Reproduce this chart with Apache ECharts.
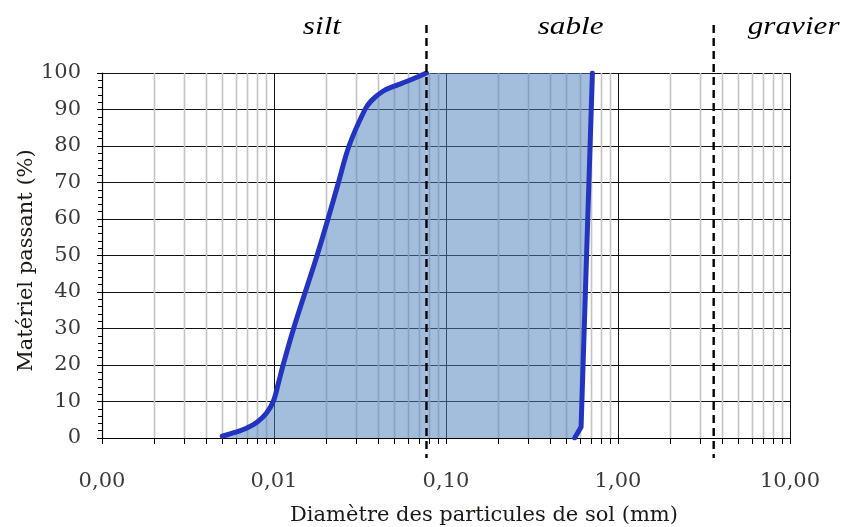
<!DOCTYPE html>
<html>
<head>
<meta charset="utf-8">
<script src="https://cdn.jsdelivr.net/npm/echarts@6/dist/echarts.min.js"></script>
<style>
  html, body { margin: 0; padding: 0; background: #ffffff; }
  #chart { width: 847px; height: 527px; }
</style>
</head>
<body>
<div id="chart"></div>
<script>
// Courbe granulométrique : diamètre (mm) / pourcentage passant
const diamFine = [0.005, 0.006, 0.007, 0.008, 0.009, 0.0099, 0.0106, 0.0113, 0.0130, 0.0152,
                  0.0178, 0.0206, 0.0237, 0.0273, 0.0338, 0.0370, 0.0430, 0.0500, 0.0600, 0.0770];
const passFine = [0.5, 1.6, 2.8, 4.4, 6.7, 10, 15, 20, 30, 40,
                  50, 60, 70, 80, 90, 92.5, 95, 96.4, 97.8, 100];
const diamCoarse = [0.56, 0.61, 0.71];
const passCoarse = [0, 3, 100];

// Limites des classes granulométriques (mm) et libellés
const zoneLimits = [0.077, 3.6];
const zoneNames = ['silt', 'sable', 'gravier'];
const zoneLabelAt = [0.019, 0.53, 10.5];

// Graduations secondaires de l'axe logarithmique
const decades = [0.001, 0.01, 0.1, 1];
const mantissas = [2, 3, 4, 5, 6, 7, 8, 9];
const minorGrid = [];
decades.forEach(d => mantissas.forEach(m => minorGrid.push(+(m * d).toPrecision(3))));

const fineLine = diamFine.map((d, i) => [d, passFine[i]]);
const coarseLine = diamCoarse.map((d, i) => [d, passCoarse[i]]);
// partie remplie entre la fin de la branche fine et la branche grossière
const coarseFill = [fineLine[fineLine.length - 1]].concat(coarseLine.slice().reverse());

const fillColor = '#4f81bd';
const fillOpacity = 0.52;
const curveColor = '#2234c0';

const chart = echarts.init(document.getElementById('chart'), null, { renderer: 'canvas' });

chart.setOption({
  animation: false,
  backgroundColor: '#ffffff',
  grid: { left: 102, right: 57, top: 73, bottom: 89, outerBoundsMode: 'none', containLabel: false },
  xAxis: {
    type: 'log',
    logBase: 10,
    min: 0.001,
    max: 10,
    name: 'Diamètre des particules de sol (mm)',
    nameLocation: 'middle',
    nameGap: 67,
    nameMoveOverlap: false,
    nameTextStyle: { fontFamily: 'DejaVu Serif', fontSize: 21, color: '#1c1814', padding: [0, 0, 0, 76] },
    axisLine: { show: true, lineStyle: { color: '#000', width: 1.2 } },
    axisTick: { show: true, length: 6, lineStyle: { color: '#000' } },
    axisLabel: {
      margin: 33,
      fontFamily: 'DejaVu Serif',
      fontSize: 21,
      color: '#3c3a38',
      formatter: v => v.toFixed(2).replace('.', ',')
    },
    splitLine: { show: true, lineStyle: { color: '#111', width: 1 } }
  },
  yAxis: {
    type: 'value',
    min: 0,
    max: 100,
    interval: 10,
    name: 'Matériel passant (%)',
    nameLocation: 'middle',
    nameRotate: 90,
    nameGap: 65,
    nameMoveOverlap: false,
    nameTextStyle: { fontFamily: 'DejaVu Serif', fontSize: 21, color: '#1c1814', padding: [0, 10, 0, 0] },
    axisLine: { show: true, lineStyle: { color: '#000', width: 1.2 } },
    axisTick: { show: true, length: 5, lineStyle: { color: '#000' } },
    minorTick: { show: true, splitNumber: 5, length: 4, lineStyle: { color: '#000' } },
    axisLabel: { margin: 21, fontFamily: 'DejaVu Serif', fontSize: 21, color: '#3c3a38' },
    splitLine: { show: true, lineStyle: { color: '#111', width: 1 } }
  },
  series: [
    {
      // quadrillage secondaire (2 à 9 par décade) et petites graduations
      type: 'custom',
      z: 1,
      silent: true,
      data: minorGrid.map(v => [v, 0]),
      renderItem: (params, api) => {
        const cs = params.coordSys;
        const x = Math.round(api.coord([api.value(0), 0])[0]) + 0.5;
        const yBottom = cs.y + cs.height;
        return {
          type: 'group',
          children: [
            { type: 'line', shape: { x1: x, y1: cs.y, x2: x, y2: yBottom },
              style: { stroke: '#c4c4c4', lineWidth: 1.6 } },
            { type: 'line', shape: { x1: x, y1: yBottom, x2: x, y2: yBottom + 6 },
              style: { stroke: '#000', lineWidth: 1 } }
          ]
        };
      }
    },
    {
      // zone remplie entre la fin de la branche fine et la branche grossière
      type: 'line',
      z: 2,
      data: coarseFill,
      showSymbol: false,
      symbol: 'none',
      lineStyle: { width: 0, opacity: 0 },
      areaStyle: { color: fillColor, opacity: fillOpacity, origin: 'start' },
      silent: true
    },
    {
      type: 'line',
      z: 3,
      data: fineLine,
      smooth: 0.35,
      showSymbol: false,
      symbol: 'none',
      lineStyle: { color: curveColor, width: 5, cap: 'round', join: 'round' },
      areaStyle: { color: fillColor, opacity: fillOpacity, origin: 'start' }
    },
    {
      type: 'line',
      z: 3,
      data: coarseLine,
      showSymbol: false,
      symbol: 'none',
      lineStyle: { color: curveColor, width: 5, cap: 'round', join: 'round' }
    },
    {
      // limites silt / sable / gravier
      type: 'custom',
      z: 5,
      silent: true,
      data: zoneLimits.map(v => [v, 0]),
      renderItem: (params, api) => {
        const cs = params.coordSys;
        const x = api.coord([api.value(0), 0])[0];
        return {
          type: 'line',
          shape: { x1: x, y1: cs.y - 48, x2: x, y2: cs.y + cs.height + 20 },
          style: { stroke: '#000', lineWidth: 2.4, lineDash: [8, 5] }
        };
      }
    },
    {
      type: 'custom',
      z: 5,
      silent: true,
      data: zoneLabelAt.map(v => [v, 0]),
      renderItem: (params, api) => {
        const cs = params.coordSys;
        const x = api.coord([api.value(0), 0])[0];
        return {
          type: 'text',
          x: x,
          y: cs.y - 46,
          scaleX: 1.2,
          style: {
            text: zoneNames[params.dataIndex],
            font: 'italic 26px "Liberation Serif"',
            fill: '#000',
            align: 'center',
            verticalAlign: 'middle',
            textAlign: 'center',
            textVerticalAlign: 'middle'
          }
        };
      }
    }
  ]
});
</script>
</body>
</html>
